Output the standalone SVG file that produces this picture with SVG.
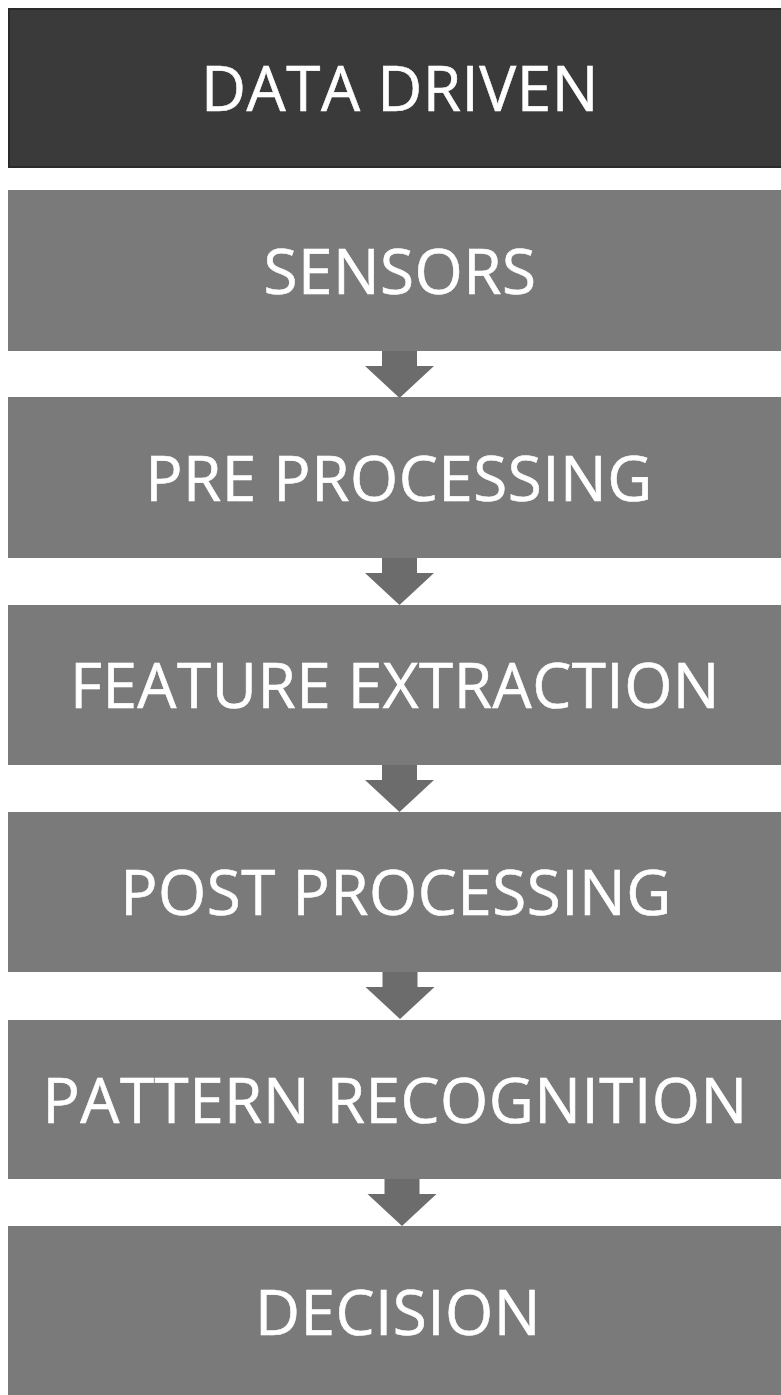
<svg xmlns="http://www.w3.org/2000/svg" width="781" height="1395" viewBox="0 0 781 1395">
  <style>
    .box { fill: #7a7a7a; }
    .head { fill: #3a3a3a; stroke: #2a2a2a; stroke-width: 2; }
    .label { font-family: "Open Sans", "Noto Sans", sans-serif; font-size: 62px; letter-spacing: 0.5px; fill: #ffffff; stroke: #ffffff; stroke-width: 0.6; text-anchor: middle; }
    .arrow { fill: #6c6c6c; }
  </style>
  <defs>
    <!-- down arrow: shaft + head, origin at the bottom edge of the upper box -->
    <path id="down" d="M -17.5 0 L 17.5 0 L 17.5 15 L 34.5 15 L 0 47 L -34.5 15 L -17.5 15 Z"/>
  </defs>
  <rect width="781" height="1395" fill="#ffffff"/>

  <g id="data-driven">
    <rect class="head" x="9" y="9" width="773" height="158"/>
    <text class="label" x="400" y="111">DATA DRIVEN</text>
  </g>
  <g id="sensors">
    <rect class="box" x="8" y="190" width="773" height="161"/>
    <text class="label" x="400" y="294">SENSORS</text>
  </g>
  <g id="pre-processing">
    <rect class="box" x="8" y="397" width="773" height="161"/>
    <text class="label" x="399" y="501">PRE PROCESSING</text>
  </g>
  <g id="feature-extraction">
    <rect class="box" x="8" y="605" width="773" height="160"/>
    <text class="label" x="395" y="708">FEATURE EXTRACTION</text>
  </g>
  <g id="post-processing">
    <rect class="box" x="8" y="812" width="773" height="160"/>
    <text class="label" x="396" y="915">POST PROCESSING</text>
  </g>
  <g id="pattern-recognition">
    <rect class="box" x="8" y="1020" width="773" height="159"/>
    <text class="label" x="395" y="1123">PATTERN RECOGNITION</text>
  </g>
  <g id="decision">
    <rect class="box" x="8" y="1226" width="773" height="169"/>
    <text class="label" x="398" y="1335">DECISION</text>
  </g>

  <g id="connectors">
    <use href="#down" class="arrow" x="399.5" y="351"/>
    <use href="#down" class="arrow" x="399.5" y="558"/>
    <use href="#down" class="arrow" x="399.5" y="765"/>
    <use href="#down" class="arrow" x="400" y="972"/>
    <use href="#down" class="arrow" x="402" y="1179"/>
  </g>
</svg>
